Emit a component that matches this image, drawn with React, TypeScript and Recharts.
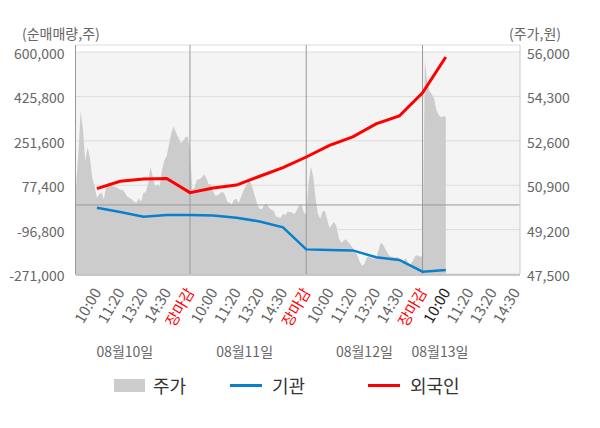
import React from 'react';
import { ComposedChart, Area, Line, XAxis, YAxis, CartesianGrid, ReferenceLine, ReferenceArea } from 'recharts';

const FONT = "'Noto Sans CJK KR', 'Noto Sans', sans-serif";

// x axis: one unit per label slot, each trading day closes at a multiple of 5
const timeTicks = [1, 2, 3, 4, 5, 6, 7, 8, 9, 10, 11, 12, 13, 14, 15, 16, 17, 18, 19];
const timeLabels = [
  '10:00', '11:20', '13:20', '14:30', '장마감',
  '10:00', '11:20', '13:20', '14:30', '장마감',
  '10:00', '11:20', '13:20', '14:30', '장마감',
  '10:00', '11:20', '13:20', '14:30',
];
const closeSlots = [5, 10, 15];
const todaySlot = 16;
const dateTicks = [2.2, 7.35, 12.5, 15.75];
const dateLabels = ['08월10일', '08월11일', '08월12일', '08월13일'];

const leftTicks = [-271000, -96800, 77400, 251600, 425800, 600000];
const rightTicks = [47500, 49200, 50900, 52600, 54300, 56000];

// 주가 (intraday), one value every 0.1 slot starting at slot 0
const priceStep = 0.1;
const price = [
  49770, 50810, 52040, 53730, 53040, 51810, 52350, 51960, 51190, 50850,
  50420, 50540, 50620, 50350, 50880, 51000, 50920, 50860, 50830, 50790,
  50730, 50730, 50620, 50460, 50420, 50350, 50270, 50230, 50400, 50270,
  50620, 50620, 50960, 51620, 51230, 50870, 50920, 50850, 51500, 51850,
  52020, 52460, 52900, 53150, 52920, 52730, 52520, 52580, 52730, 52780,
  52270,
  50730, 50810, 51120, 51120, 51190, 51310, 51190, 50940, 50940, 50650,
  50500, 50520, 50600, 50650, 50540, 50280, 50220, 50170, 50350, 50380,
  50230, 50460, 50690, 50870, 51020, 51020, 50770, 50460, 50150, 49980,
  50000, 50150, 50190, 50040, 49960, 49920, 49700, 49670, 49650, 49810,
  49750, 49880, 49870, 49850, 49790, 49960, 50150, 50150, 49850, 49770,
  51000, 51620, 51230, 50420, 49810, 49620, 49880, 49920, 49600, 49260,
  49380, 49500, 49310, 48880, 48690, 48770, 48830, 48730, 48620, 48500,
  48350, 48210, 47970, 47820, 47880, 48120, 48170, 48100, 48080, 48080,
  48390, 48710, 48630, 48460, 48290, 48170, 48170, 48120, 48150, 48080,
  47920, 48040, 48100, 47850, 47880, 48040, 48210, 48210, 48170, 48170,
  55650, 54880, 54500, 54380, 54190, 53770, 53580, 53500, 53540, 53540,
];

// 기관 / 외국인 cumulative net buying at each label slot
const lineSlots = [1, 2, 3, 4, 5, 6, 7, 8, 9, 10, 11, 12, 13, 14, 15, 16];
const institution = [
  -10900, -27800, -46400, -39700, -39700, -41200, -50300, -64900,
  -87700, -174400, -176400, -178400, -205200, -215800, -261900, -255200,
];
const foreign = [
  64000, 92750, 102200, 103400, 48200, 66700, 77800, 112500,
  146700, 188100, 233400, 266900, 318200, 348900, 440400, 580300,
];

const priceData = price.map((p, i) => ({ x: Math.round(i * priceStep * 100) / 100, price: p }));
const lineData = lineSlots.map((s, i) => ({ x: s, institution: institution[i], foreign: foreign[i] }));

const X_DOMAIN: [number, number] = [0.08, 19.19];

const TimeTick = (props: any) => {
  const { x, y, payload } = props;
  const i = timeTicks.indexOf(payload.value);
  const label = timeLabels[i];
  let color = '#666';
  if (closeSlots.includes(payload.value)) color = '#ff0000';
  else if (payload.value === todaySlot) color = '#222';
  return (
    <text
      transform={`translate(${x + 5},${y + 9}) rotate(-60)`}
      textAnchor="end"
      fontSize={15}
      fontFamily={FONT}
      fill={color}
    >
      {label}
    </text>
  );
};

// the date row sits below the rotated time labels
const DateTick = (props: any) => {
  const { x, y, payload } = props;
  const label = dateLabels[dateTicks.indexOf(payload.value)];
  return (
    <text x={x} y={y + 75} textAnchor="middle" fontSize={14} fontFamily={FONT} fill="#666">
      {label}
    </text>
  );
};

const ValueTick = (anchor: 'start' | 'end') => (props: any) => {
  const { x, y, payload } = props;
  return (
    <text x={x} y={y + 2} dy="0.355em" textAnchor={anchor} fontSize={14} fontFamily={FONT} fill="#666">
      {payload.value.toLocaleString('en-US')}
    </text>
  );
};

const legendText: React.CSSProperties = {
  position: 'absolute',
  top: 376,
  fontSize: 18,
  lineHeight: '18px',
  color: '#333',
  fontFamily: FONT,
};

export default function App() {
  return (
    <div style={{ position: 'absolute', left: 0, top: 0, width: 600, height: 428, background: '#fff', fontFamily: FONT }}>
      <div style={{ position: 'absolute', left: 22, top: 26, fontSize: 14, lineHeight: '14px', color: '#666' }}>(순매매량,주)</div>
      <div style={{ position: 'absolute', left: 509, top: 26, fontSize: 14, lineHeight: '14px', color: '#666' }}>(주가,원)</div>

      <ComposedChart width={600} height={428} margin={{ top: 45, right: 0, bottom: 93, left: 0 }}>
        <ReferenceArea
          xAxisId="time"
          yAxisId="left"
          y1={-271000}
          y2={600000}
          fill="#f4f4f4"
          fillOpacity={1}
          stroke="none"
          zIndex={-200}
        />
        <CartesianGrid xAxisId="time" yAxisId="left" vertical={false} stroke="#dddddd" />
        <XAxis
          xAxisId="date"
          type="number"
          dataKey="x"
          domain={X_DOMAIN}
          allowDataOverflow
          ticks={dateTicks}
          interval={0}
          tick={<DateTick />}
          tickLine={false}
          axisLine={false}
          height={1}
        />
        <XAxis
          xAxisId="time"
          type="number"
          dataKey="x"
          domain={X_DOMAIN}
          allowDataOverflow
          ticks={timeTicks}
          interval={0}
          tick={<TimeTick />}
          tickLine={false}
          axisLine={{ stroke: '#999' }}
          height={60}
        />
        <YAxis
          yAxisId="left"
          orientation="left"
          type="number"
          domain={[-271000, 627600]}
          allowDataOverflow
          ticks={leftTicks}
          interval={0}
          width={75.5}
          tickLine={false}
          tickSize={6}
          tickMargin={5}
          tick={ValueTick('end')}
          axisLine={{ stroke: '#999' }}
        />
        <YAxis
          yAxisId="right"
          orientation="right"
          type="number"
          domain={[47500, 56270]}
          allowDataOverflow
          ticks={rightTicks}
          interval={0}
          width={80}
          tickLine={false}
          tickSize={6}
          tickMargin={1}
          tick={ValueTick('start')}
          axisLine={{ stroke: '#cccccc' }}
        />
        <Area
          xAxisId="time"
          yAxisId="right"
          data={priceData}
          dataKey="price"
          type="linear"
          fill="#cccccc"
          fillOpacity={1}
          stroke="none"
          isAnimationActive={false}
        />
        {closeSlots.map((s) => (
          <ReferenceLine key={s} xAxisId="time" yAxisId="left" x={s} stroke="#999" />
        ))}
        <ReferenceLine xAxisId="time" yAxisId="left" y={0} stroke="#999" />
        <Line
          xAxisId="time"
          yAxisId="left"
          data={lineData}
          dataKey="institution"
          stroke="#0a7fcc"
          strokeWidth={2.5}
          dot={false}
          isAnimationActive={false}
        />
        <Line
          xAxisId="time"
          yAxisId="left"
          data={lineData}
          dataKey="foreign"
          stroke="#ff0000"
          strokeWidth={3}
          dot={false}
          isAnimationActive={false}
        />
      </ComposedChart>

      <div style={{ position: 'absolute', left: 114, top: 379, width: 31, height: 13, background: '#cccccc' }} />
      <div style={{ ...legendText, left: 153 }}>주가</div>
      <div style={{ position: 'absolute', left: 230, top: 384, width: 32, height: 3, background: '#0a7fcc' }} />
      <div style={{ ...legendText, left: 272 }}>기관</div>
      <div style={{ position: 'absolute', left: 368, top: 384, width: 32, height: 3, background: '#ff0000' }} />
      <div style={{ ...legendText, left: 410 }}>외국인</div>
    </div>
  );
}
